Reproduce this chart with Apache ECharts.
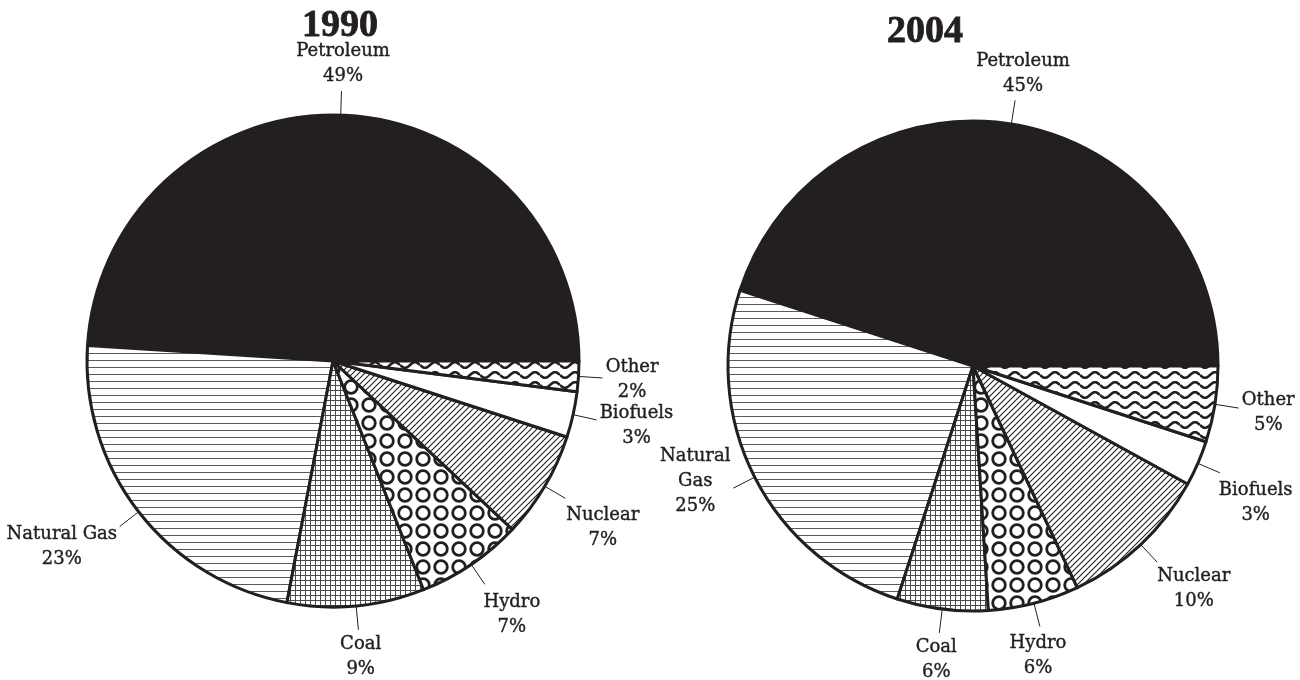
<!DOCTYPE html>
<html>
<head>
<meta charset="utf-8">
<title>Energy sources, 1990 and 2004</title>
<script src="https://cdn.jsdelivr.net/npm/echarts@6/dist/echarts.min.js"></script>
<style>
  html, body { margin: 0; padding: 0; background: #fff; }
  #chart { width: 1300px; height: 680px; }
</style>
</head>
<body>
<div id="chart"></div>
<script>
// Energy sources by share of total supply
const sources = ['Petroleum', 'Natural Gas', 'Coal', 'Hydro', 'Nuclear', 'Biofuels', 'Other'];
const labels1990 = ['Petroleum', 'Natural Gas', 'Coal', 'Hydro', 'Nuclear', 'Biofuels', 'Other'];
const labels2004 = ['Petroleum', 'Natural\nGas', 'Coal', 'Hydro', 'Nuclear', 'Biofuels', 'Other'];
const share1990 = [49, 23, 9, 7, 7, 3, 2];
const share2004 = [45, 25, 6, 6, 10, 3, 5];
const years = ['1990', '2004'];

const INK = '#231f20';
const FONT = '"DejaVu Serif", "Liberation Serif", serif';

// ---- fill patterns -------------------------------------------------------
function tile(w, h, draw) {
  const c = document.createElement('canvas');
  c.width = w; c.height = h;
  const g = c.getContext('2d');
  g.fillStyle = '#fff';
  g.fillRect(0, 0, w, h);
  g.strokeStyle = INK;
  g.fillStyle = INK;
  draw(g, w, h);
  return { image: c, repeat: 'repeat' };
}

const horizontalLines = tile(8, 7, (g, w) => {
  g.strokeStyle = '#5a5a5a';
  g.lineWidth = 1;
  g.beginPath(); g.moveTo(0, 3.5); g.lineTo(w, 3.5); g.stroke();
});

const gridLines = tile(5, 5, (g, w, h) => {
  g.strokeStyle = '#4a4a4a';
  g.lineWidth = 1;
  g.beginPath();
  g.moveTo(0.5, 0); g.lineTo(0.5, h);
  g.moveTo(0, 0.5); g.lineTo(w, 0.5);
  g.stroke();
});

const rings = tile(18, 18, (g) => {
  g.lineWidth = 2.8;
  g.beginPath(); g.arc(9, 9, 6.3, 0, Math.PI * 2); g.stroke();
});

const diagonalLines = tile(6, 6, (g, w, h) => {
  g.lineWidth = 1.1;
  g.beginPath();
  g.moveTo(-1, h + 1); g.lineTo(w + 1, -1);
  g.moveTo(-1, 1); g.lineTo(1, -1);
  g.moveTo(w - 1, h + 1); g.lineTo(w + 1, h - 1);
  g.stroke();
});

const waves = tile(20, 10, (g, w) => {
  g.lineWidth = 2.6;
  g.beginPath();
  for (let x = 0; x <= w; x += 0.5) {
    const y = 5 + 2.8 * Math.sin((x / w) * Math.PI * 2);
    if (x === 0) g.moveTo(x, y); else g.lineTo(x, y);
  }
  g.stroke();
});

const fills = [INK, horizontalLines, gridLines, rings, diagonalLines, '#ffffff', waves];

// ---- pie series ----------------------------------------------------------
function midAngles(values) {
  const total = values.reduce((a, b) => a + b, 0);
  let acc = 0;
  return values.map(v => {
    const m = (acc + v / 2) / total * 360;
    acc += v;
    return m;
  });
}

// small hand offsets for labels that sit off the radial line
const labelShift1990 = { 3: [6, 4], 4: [-2, 14] };
const labelShift2004 = { 1: [0, -27], 3: [-10, 2], 5: [-4, 18] };

function pieSeries(values, names, cx, cy, r, shift) {
  const mids = midAngles(values);
  const lineLen = 24;
  return {
    type: 'pie',
    center: [cx, cy],
    radius: r,
    startAngle: 0,
    clockwise: false,
    animation: false,
    avoidLabelOverlap: false,
    silent: true,
    data: values.map((v, i) => ({
      value: v,
      name: sources[i],
      labelText: names[i],
      itemStyle: { color: fills[i] }
    })),
    itemStyle: { borderColor: INK, borderWidth: 3 },
    label: {
      show: true,
      position: 'outside',
      formatter: p => p.data.labelText + '\n' + p.value + '%',
      fontFamily: FONT,
      fontSize: 18,
      lineHeight: 25,
      color: INK,
      textBorderColor: INK,
      textBorderWidth: 0.4
    },
    labelLine: {
      show: true,
      length: lineLen,
      length2: 0,
      lineStyle: { color: INK, width: 1 }
    },
    labelLayout: function (p) {
      const a = mids[p.dataIndex] * Math.PI / 180;
      const c = Math.cos(a), s = Math.sin(a);
      const x0 = cx + r * c, y0 = cy - r * s;
      const x1 = cx + (r + lineLen) * c, y1 = cy - (r + lineLen) * s;
      const w = p.labelRect.width, h = p.labelRect.height;
      const k = 1 / Math.max(Math.abs(c), Math.abs(s));
      const d = shift[p.dataIndex] || [0, 0];
      return {
        x: x1 + c * (w / 2 * k + 3) + d[0],
        y: y1 - s * (h / 2 * k + 2) + d[1],
        align: 'center',
        verticalAlign: 'middle',
        labelLinePoints: [[x0, y0], [x1, y1], [x1, y1]]
      };
    }
  };
}

const chart = echarts.init(document.getElementById('chart'), null, { renderer: 'canvas' });

function yearTitle(text, x, y) {
  return {
    type: 'text',
    x: x, y: y,
    silent: true,
    style: {
      text: text,
      fill: INK,
      stroke: INK,
      lineWidth: 0.8,
      font: 'bold 38px "Liberation Serif", "DejaVu Serif", serif',
      align: 'center', textAlign: 'center',
      verticalAlign: 'middle', textVerticalAlign: 'middle'
    }
  };
}

chart.setOption({
  backgroundColor: '#ffffff',
  graphic: [
    yearTitle(years[0], 340, 26),
    yearTitle(years[1], 925, 32)
  ],
  series: [
    pieSeries(share1990, labels1990, 333, 361, 246, labelShift1990),
    pieSeries(share2004, labels2004, 973, 366, 245, labelShift2004)
  ]
});
</script>
</body>
</html>
